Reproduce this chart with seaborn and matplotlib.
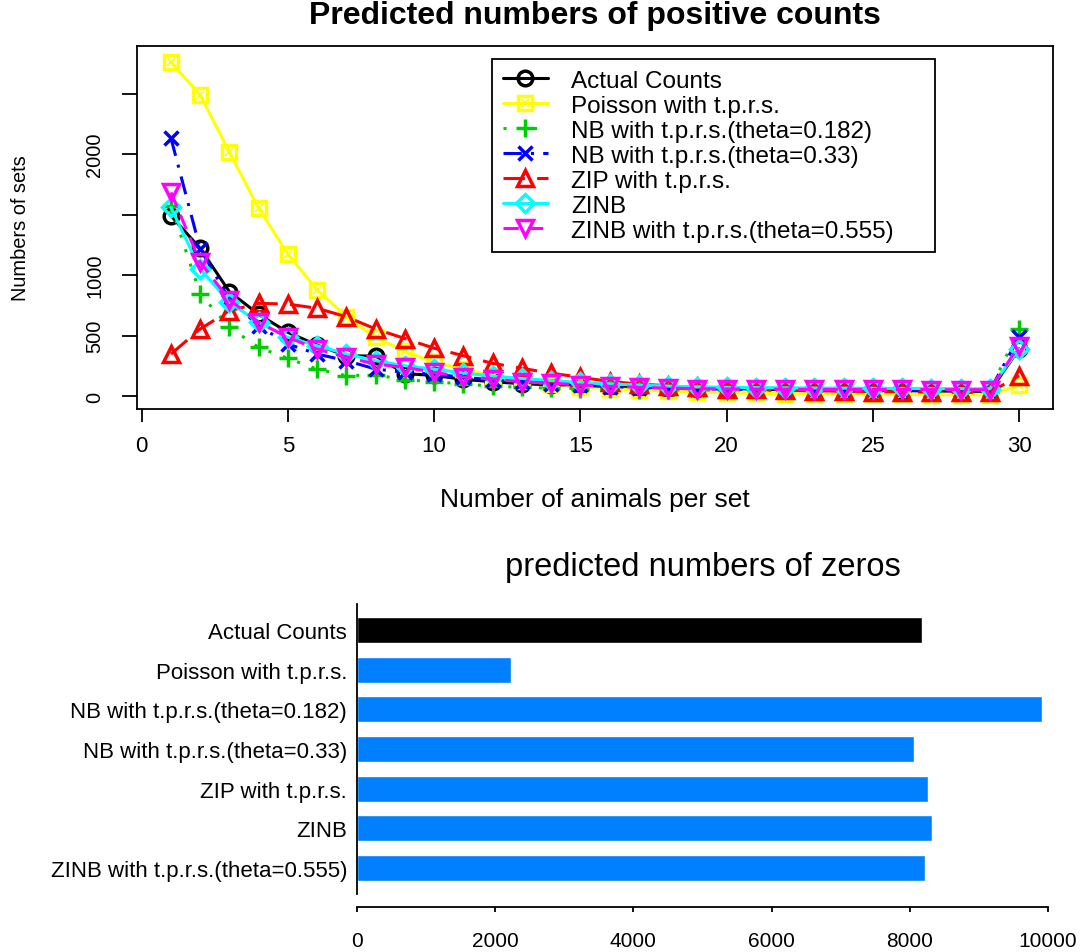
import matplotlib
matplotlib.use("Agg")
import matplotlib.pyplot as plt
import numpy as np
import pandas as pd
import seaborn as sns
from matplotlib.legend_handler import HandlerTuple

# ---- data -------------------------------------------------------------
animals = list(range(1, 31))

actual = [1490, 1220, 862, 675, 526, 421, 333, 330, 185, 170, 138, 118, 102, 92, 82,
          75, 68, 62, 58, 66, 55, 52, 50, 48, 46, 44, 42, 40, 38, 390]
poisson = [2758, 2488, 2014, 1551, 1173, 878, 655, 485, 370, 278, 223, 168, 127, 99, 78,
           62, 50, 40, 33, 27, 23, 20, 18, 16, 14, 13, 12, 11, 10, 90]
nb_0182 = [1573, 843, 567, 402, 311, 223, 168, 175, 135, 118, 99, 82, 72, 65, 60,
           56, 53, 51, 50, 50, 49, 48, 47, 47, 46, 46, 45, 45, 44, 553]
nb_033 = [2132, 1215, 800, 581, 430, 347, 292, 223, 196, 180, 155, 133, 115, 100, 88,
          78, 70, 64, 60, 57, 55, 53, 52, 51, 50, 49, 48, 47, 46, 487]
zip_tprs = [347, 554, 705, 766, 760, 725, 655, 554, 475, 395, 333, 270, 229, 189, 155,
            120, 99, 85, 72, 62, 55, 48, 44, 40, 37, 35, 33, 31, 30, 168]
zinb = [1559, 1050, 774, 609, 485, 416, 347, 292, 250, 223, 190, 165, 145, 128, 112,
        100, 90, 82, 76, 72, 70, 68, 66, 65, 64, 63, 62, 61, 60, 388]
zinb_0555 = [1683, 1105, 796, 609, 485, 388, 320, 264, 237, 196, 158, 140, 118, 107, 91,
             80, 72, 65, 61, 58, 57, 56, 55, 55, 54, 54, 53, 53, 52, 416]

models = ["Actual Counts", "Poisson with t.p.r.s.", "NB with t.p.r.s.(theta=0.182)",
          "NB with t.p.r.s.(theta=0.33)", "ZIP with t.p.r.s.", "ZINB",
          "ZINB with t.p.r.s.(theta=0.555)"]
zeros = [8179, 2226, 9920, 8060, 8259, 8326, 8219]

y_ticks = [0, 500, 1000, 1500, 2000, 2500]
y_tick_labels = ["0", "500", "1000", "", "2000", ""]
x_ticks = [0, 5, 10, 15, 20, 25, 30]
zero_ticks = [0, 2000, 4000, 6000, 8000, 10000]

# ---- style ------------------------------------------------------------
sns.set_style("ticks")
plt.rcParams["font.family"] = ["Liberation Sans", "DejaVu Sans"]
plt.rcParams["axes.edgecolor"] = "black"
plt.rcParams["xtick.color"] = "black"
plt.rcParams["ytick.color"] = "black"
plt.rcParams["text.color"] = "black"
plt.rcParams["axes.labelcolor"] = "black"

fig = plt.figure(figsize=(10.84, 9.53), dpi=100)
ax1 = fig.add_axes([0.1264, 0.5698, 0.8450, 0.3809])
ax2 = fig.add_axes([0.3293, 0.0609, 0.6375, 0.3043])

# ---- top panel: predicted positive counts -----------------------------
series = [
    (models[0], actual, "black", "-", "o", 10.5),
    (models[1], poisson, "#FFFF00", "-", "s", 10.5),
    (models[2], nb_0182, "#00CD00", (0, (1, 4)), "+", 12.5),
    (models[3], nb_033, "#0000FF", (0, (6, 3, 1, 3)), "x", 10.5),
    (models[4], zip_tprs, "#FF0000", (0, (7, 4)), "^", 11.5),
    (models[5], zinb, "#00FFFF", "-", "D", 9.5),
    (models[6], zinb_0555, "#FF00FF", (0, (5, 3)), "v", 11.5),
]

handles = []
for label, vals, color, ls, mk, ms in series:
    sns.lineplot(x=animals, y=vals, ax=ax1, color=color, linestyle=ls, lw=2.2,
                 marker=mk, markersize=ms, mfc="none", mec=color, mew=2.5,
                 label=label)
    line = ax1.lines[-1]
    if label == models[1]:
        # square with a cross inside
        sns.lineplot(x=animals, y=vals, ax=ax1, color=color, linestyle="",
                     marker="x", markersize=6, mec=color, mew=1.3,
                     label="_nolegend_")
        handles.append((line, ax1.lines[-1]))
    else:
        handles.append(line)

ax1.set_xlim(-0.16, 31.16)
ax1.set_ylim(-107, 2893)
ax1.set_xticks(x_ticks)
ax1.set_xticklabels([str(t) for t in x_ticks])
ax1.set_yticks(y_ticks)
ax1.set_yticklabels(y_tick_labels)
for s in ax1.spines.values():
    s.set_visible(True)
    s.set_linewidth(1.3)
ax1.tick_params(axis="x", direction="out", length=9, width=1.3, labelsize=16, pad=10)
ax1.tick_params(axis="y", direction="out", length=10.5, width=1.3, labelsize=14.4, pad=13)
plt.setp(ax1.get_yticklabels(), rotation=90, va="center")

ax1.set_xlabel("Number of animals per set", fontsize=19)
ax1.xaxis.set_label_coords(0.5, -0.248)
ax1.xaxis.label.set_verticalalignment("center")
ax1.set_ylabel("Numbers of sets", fontsize=14.4)
ax1.yaxis.set_label_coords(-0.1277, 0.5)
ax1.yaxis.label.set_verticalalignment("center")

ax1.set_title("Predicted numbers of positive counts", fontsize=23, fontweight="bold",
              y=1.0854, pad=0, va="center")

leg = ax1.legend(handles, models, loc="upper left", mode="expand",
                 bbox_to_anchor=(0.3876, 0.0, 0.4836, 0.9642), borderaxespad=0,
                 prop={"size": 17.5}, frameon=True, fancybox=False, framealpha=1,
                 edgecolor="black", borderpad=0.45, labelspacing=0.12,
                 handlelength=1.85, handletextpad=0.95, numpoints=1,
                 handler_map={tuple: HandlerTuple(ndivide=1)})
leg.get_frame().set_linewidth(1.3)

# ---- bottom panel: predicted zeros ------------------------------------
bar_colors = {m: ("black" if m == models[0] else "#0080FF") for m in models}
zero_df = pd.DataFrame({"model": models, "zeros": zeros})
sns.barplot(data=zero_df, x="zeros", y="model", hue="model", palette=bar_colors,
            order=models, hue_order=models, legend=False, orient="h", width=0.657,
            saturation=1, ax=ax2)
ax2.set_xlim(0, 10000)
ax2.set_ylim(6.657, -0.657)
ax2.set_xticks(zero_ticks)
ax2.set_xticklabels([str(t) for t in zero_ticks])
ax2.set_xlabel("")
ax2.set_ylabel("")
ax2.spines["top"].set_visible(False)
ax2.spines["right"].set_visible(False)
ax2.spines["left"].set_linewidth(1.3)
ax2.spines["bottom"].set_linewidth(1.3)
ax2.spines["bottom"].set_position(("outward", 9.4))
ax2.spines["bottom"].set_bounds(0, 10000)
ax2.tick_params(axis="y", length=0, labelsize=16, pad=7)
ax2.tick_params(axis="x", direction="out", length=3.6, width=1.3, labelsize=15, pad=14)
ax2.set_title("predicted numbers of zeros", fontsize=23.5, y=1.1276, pad=0, va="center")

fig.savefig("out.png", dpi=100)
